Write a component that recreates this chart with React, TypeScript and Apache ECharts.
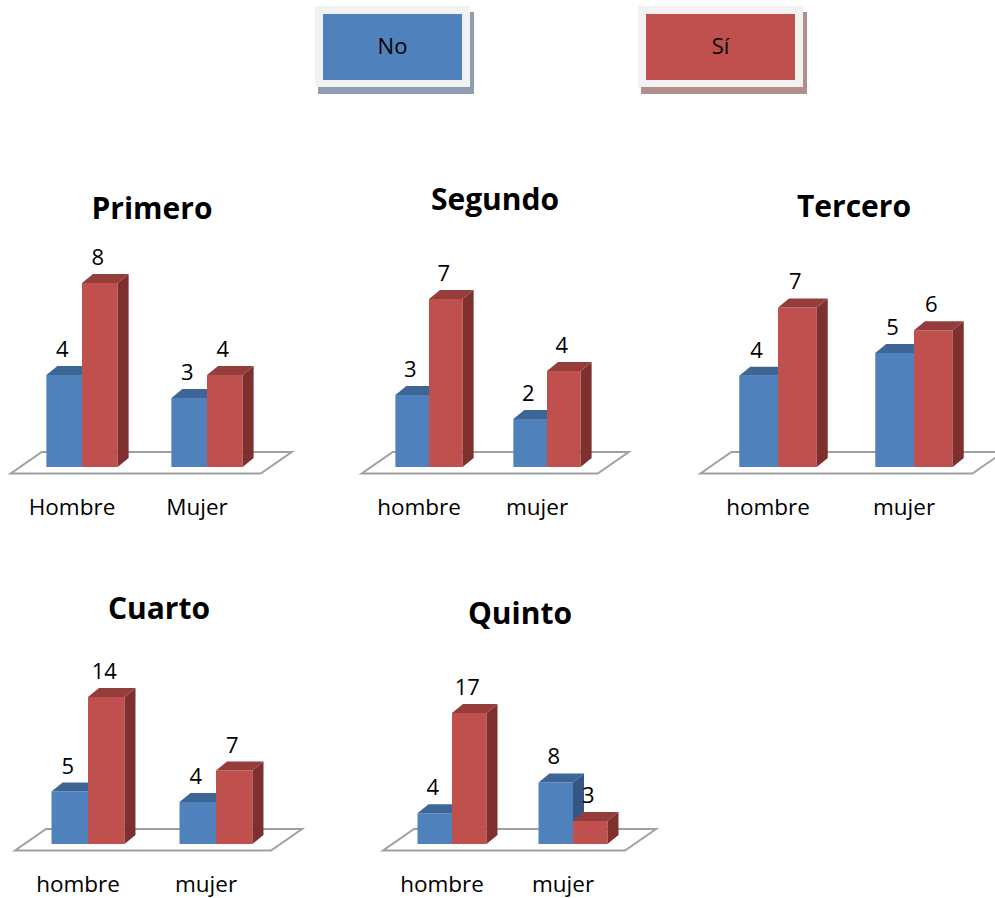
import React, { useEffect, useRef } from "react";
import * as echarts from "echarts";

// Survey answers per school year, split by gender
const PANEL_TITLES = ["Primero", "Segundo", "Tercero", "Cuarto", "Quinto"];
const CATEGORIES = [
  ["Hombre", "Mujer"],
  ["hombre", "mujer"],
  ["hombre", "mujer"],
  ["hombre", "mujer"],
  ["hombre", "mujer"],
];
const NO_VALUES = [
  [4, 3],
  [3, 2],
  [4, 5],
  [5, 4],
  [4, 8],
];
const SI_VALUES = [
  [8, 4],
  [7, 4],
  [7, 6],
  [14, 7],
  [17, 3],
];
const AXIS_MAX = [9, 8, 8, 16, 18];
const SERIES_NAMES = ["No", "Sí"];

// Panel layout (plot rectangles and title anchors)
const GRIDS = [
  { left: 19.5, top: 260, width: 250, height: 207 },
  { left: 370, top: 275, width: 236, height: 192 },
  { left: 710, top: 284.6, width: 272, height: 182.4 },
  { left: 24, top: 676, width: 256, height: 168 },
  { left: 391.5, top: 705.4, width: 242, height: 138.6 },
];
const TITLE_POS = [
  [152, 207],
  [495, 198],
  [854, 205],
  [159, 607],
  [520, 612],
];

const FONT = "'Open Sans', 'DejaVu Sans', sans-serif";
const BLUE = { front: "#4F81BD", top: "#3D6596", side: "#345784" };
const RED = { front: "#C0504D", top: "#953D3B", side: "#7D302E" };
const DX = 11;
const DY = 9;

function barRenderer(colors: any, leftOfCenter: boolean) {
  return (params: any, api: any) => {
    const cat = api.value(0);
    const v = api.value(1);
    const base = api.coord([cat, 0]);
    const tip = api.coord([cat, v]);
    const s = api.size([1, 0])[0];
    const w = s * 0.285;
    const x0 = leftOfCenter ? base[0] - w : base[0];
    const yb = base[1];
    const yt = tip[1];
    return {
      type: "group",
      children: [
        {
          type: "rect",
          shape: { x: x0, y: yt, width: w, height: yb - yt },
          style: { fill: colors.front },
        },
        {
          type: "polygon",
          shape: {
            points: [
              [x0 + w, yb],
              [x0 + w + DX, yb - DY],
              [x0 + w + DX, yt - DY],
              [x0 + w, yt],
            ],
          },
          style: { fill: colors.side },
        },
        {
          type: "polygon",
          shape: {
            points: [
              [x0, yt],
              [x0 + DX, yt - DY],
              [x0 + w + DX, yt - DY],
              [x0 + w, yt],
            ],
          },
          style: { fill: colors.top },
        },
        {
          type: "text",
          x: x0 + w / 2 - 2,
          y: yt - 27,
          style: {
            text: String(v),
            fontSize: 22,
            fontFamily: FONT,
            fill: "#000",
            align: "center",
            verticalAlign: "middle",
          },
        },
      ],
    };
  };
}

function floorRenderer(params: any, api: any) {
  const cs = params.coordSys;
  const s = cs.width / 2;
  const c0 = cs.x + s / 2;
  const c1 = cs.x + 1.5 * s;
  const yb = cs.y + cs.height;
  const fl = c0 - 0.57 * s;
  const fr = c1 + 0.43 * s;
  const fy = yb + 6.5;
  const by = yb - 15;
  const bdx = 31;
  return {
    type: "polygon",
    shape: {
      points: [
        [fl, fy],
        [fr, fy],
        [fr + bdx, by],
        [fl + bdx, by],
      ],
    },
    style: { fill: "#FFFFFF", stroke: "#A0A0A0", lineWidth: 2 },
  };
}

function legendBox(
  x: number,
  w: number,
  label: string,
  fill: string,
  shadow: string
) {
  return [
    {
      type: "rect",
      shape: { x: x + 3, y: 12, width: w + 1, height: 82 },
      style: { fill: shadow },
    },
    {
      type: "rect",
      shape: { x, y: 6, width: w, height: 81 },
      style: { fill: "#F2F2F2" },
    },
    {
      type: "rect",
      shape: { x: x + 8, y: 14, width: w - 16, height: 66 },
      style: { fill },
    },
    {
      type: "text",
      x: x + w / 2,
      y: 45,
      style: {
        text: label,
        fontSize: 22,
        fontFamily: FONT,
        fill: "#000",
        align: "center",
        verticalAlign: "middle",
      },
    },
  ];
}

export default function App() {
  const ref = useRef<HTMLDivElement>(null);

  useEffect(() => {
    document.body.style.margin = "0";
    if (!ref.current) return;
    const chart = echarts.init(ref.current, null, { renderer: "svg" });

    const grid = GRIDS.map((g) => ({ ...g, containLabel: false }));
    const xAxis = CATEGORIES.map((cats, i) => ({
      type: "category",
      gridIndex: i,
      data: cats,
      boundaryGap: true,
      axisLine: { show: false },
      axisTick: { show: false },
      splitLine: { show: false },
      axisLabel: {
        margin: 28,
        fontSize: 22.5,
        fontFamily: FONT,
        color: "#000",
        padding: [0, 20, 0, 0],
      },
    }));
    const yAxis = AXIS_MAX.map((max, i) => ({
      type: "value",
      gridIndex: i,
      min: 0,
      max,
      show: false,
    }));

    const series: any[] = [];
    PANEL_TITLES.forEach((_, i) => {
      series.push({
        type: "custom",
        name: "floor",
        xAxisIndex: i,
        yAxisIndex: i,
        z: 1,
        silent: true,
        data: [[0, 0]],
        renderItem: floorRenderer,
      });
      series.push({
        type: "custom",
        name: SERIES_NAMES[0],
        xAxisIndex: i,
        yAxisIndex: i,
        z: 2,
        itemStyle: { color: BLUE.front },
        data: NO_VALUES[i].map((v, c) => [c, v]),
        renderItem: barRenderer(BLUE, true),
      });
      series.push({
        type: "custom",
        name: SERIES_NAMES[1],
        xAxisIndex: i,
        yAxisIndex: i,
        z: 3,
        itemStyle: { color: RED.front },
        data: SI_VALUES[i].map((v, c) => [c, v]),
        renderItem: barRenderer(RED, false),
      });
    });

    const titles = PANEL_TITLES.map((t, i) => ({
      type: "text",
      x: TITLE_POS[i][0],
      y: TITLE_POS[i][1],
      style: {
        text: t,
        fontSize: 30,
        fontWeight: "bold",
        fontFamily: FONT,
        fill: "#000",
        align: "center",
        verticalAlign: "middle",
      },
    }));

    chart.setOption({
      animation: false,
      backgroundColor: "#FFFFFF",
      grid,
      xAxis,
      yAxis,
      series,
      graphic: [
        ...legendBox(315, 155, SERIES_NAMES[0], BLUE.front, "#8E9DB2"),
        ...legendBox(638, 165, SERIES_NAMES[1], RED.front, "#B18D8C"),
        ...titles,
      ],
    });

    return () => chart.dispose();
  }, []);

  return <div ref={ref} style={{ width: 995, height: 898 }} />;
}
